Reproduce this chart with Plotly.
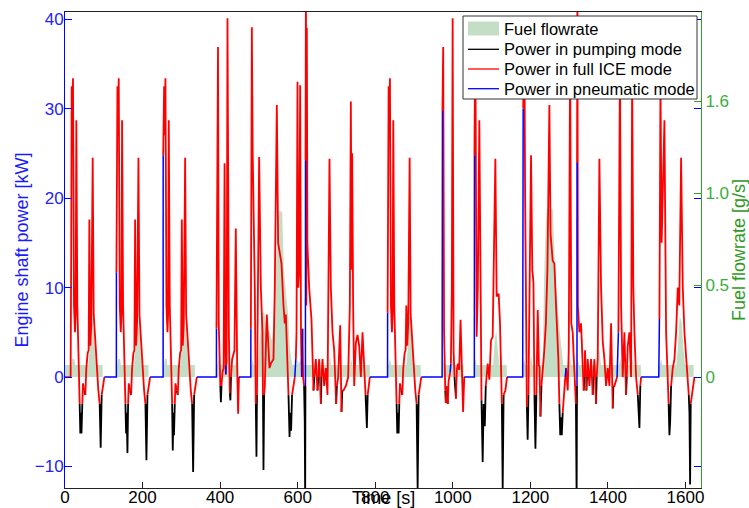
import plotly.graph_objects as go

# ---------------- data ----------------
# each entry: (time [s], engine shaft power [kW], mode of the segment that starts here)
# mode: 'I' = full ICE mode, 'P' = pumping mode, 'N' = pneumatic mode
power_c1 = [
    (0, 0, 'I'), (14.5, 0, 'I'), (16, 14, 'I'), (17.2, 32.5, 'I'), (18.9, 27, 'I'), (20.6, 33.4, 'I'),
    (23.2, 8, 'I'), (25.8, 5, 'I'), (27.5, 7, 'I'), (29.2, 28.7, 'I'), (31.8, 8, 'I'), (34.4, 3, 'I'),
    (37.8, -3, 'P'), (39.5, -6.3, 'P'), (41, -4, 'P'), (42.5, -6.3, 'P'), (44.7, -3, 'I'), (46.4, -0.7, 'I'),
    (49.9, -1.5, 'P'), (52.4, -2, 'I'), (55, 1, 'I'), (58.5, 2.7, 'I'), (61, 3, 'I'), (62.8, 17.6, 'I'),
    (65.3, 3.5, 'I'), (67.9, 6.1, 'I'), (71.4, 24.5, 'I'), (74, 7, 'I'), (76.5, 5, 'I'), (80, 2, 'I'),
    (83.4, 0, 'I'), (86, -1.5, 'I'), (89.4, -3, 'P'), (92, -7.9, 'P'), (94.6, -2, 'I'), (98, -1, 'I'),
    (101.5, 0, 'N'),
]
power_c2 = [
    (132.4, 0, 'N'), (132.6, 11.7, 'I'), (135.2, 32.5, 'I'), (136.9, 27, 'I'), (138.6, 33.4, 'I'),
    (141.2, 8, 'I'), (143.8, 5, 'I'), (145.5, 7, 'I'), (147.2, 28.7, 'I'), (149.8, 8, 'I'), (152.4, 3, 'I'),
    (155.8, -3, 'P'), (157.5, -6.3, 'P'), (159, -4, 'P'), (161, -8.5, 'P'), (162.7, -3, 'I'), (164.4, -0.7, 'I'),
    (167.9, -1.5, 'P'), (170.4, -2, 'I'), (173, 1, 'I'), (176.5, 2.7, 'I'), (179, 3, 'I'), (180.8, 17.6, 'I'),
    (183.3, 3.5, 'I'), (185.9, 6.1, 'I'), (189.4, 24.5, 'I'), (192, 7, 'I'), (194.5, 5, 'I'), (198, 2, 'I'),
    (201.4, 0, 'I'), (204, -1.5, 'I'), (207.4, -3, 'P'), (210, -9.3, 'P'), (212.6, -2, 'I'), (216, -1, 'I'),
    (219.5, 0, 'N'),
]
power_c3 = [
    (253, 0, 'N'), (253.2, 24.8, 'I'), (255.6, 32.5, 'I'), (257.3, 27, 'I'), (259, 33.4, 'I'),
    (261.6, 8, 'I'), (264.2, 5, 'I'), (265.9, 7, 'I'), (267.6, 28.7, 'I'), (270.2, 8, 'I'), (272.8, 3, 'I'),
    (276.2, -3, 'P'), (277.9, -8.2, 'P'), (279.5, -4, 'P'), (281, -6.5, 'P'), (283.1, -3, 'I'), (284.8, -0.7, 'I'),
    (288.3, -1.5, 'P'), (290.8, -2, 'I'), (293.4, 1, 'I'), (296.9, 2.7, 'I'), (299.4, 3, 'I'), (301.2, 17.6, 'I'),
    (303.7, 3.5, 'I'), (306.3, 6.1, 'I'), (309.8, 24.5, 'I'), (312.4, 7, 'I'), (314.9, 5, 'I'), (318.4, 2, 'I'),
    (321.8, 0, 'I'), (324.4, -1.5, 'I'), (327.8, -3, 'P'), (330.4, -10.6, 'P'), (333, -2, 'I'), (336.4, -1, 'I'),
    (339.9, 0, 'N'),
]
power_c4 = [
    (390.4, 0, 'N'), (390.6, 5.4, 'I'), (394.5, 36.9, 'I'), (396.5, 6, 'I'), (398.5, 3, 'I'), (400.5, -1, 'P'),
    (402, -2.8, 'P'), (403.5, -1, 'I'), (406, 0.5, 'I'), (409, 1, 'I'), (411.5, 23.9, 'I'), (413.5, 4, 'I'),
    (414.5, 0.3, 'N'), (415.5, 1.3, 'I'), (416.8, 2, 'I'), (419, 40.1, 'I'), (420.5, 8, 'I'), (422.5, 5, 'I'),
    (425, -1.8, 'P'), (426.5, -2.6, 'P'), (428, 0, 'I'), (431, 2, 'I'), (434, 2.5, 'I'), (437, 3, 'I'),
    (440.4, 16.6, 'I'), (442, 3, 'I'), (444, 1, 'I'), (446.4, -4.1, 'I'), (448.5, 0, 'N'),
]
power_c5 = [
    (479.1, 0, 'N'), (479.3, 5.4, 'I'), (481.8, 39.1, 'I'), (484, 25, 'I'), (486, 20.1, 'I'), (489.4, 10, 'I'),
    (492, -3, 'P'), (493.7, -8.9, 'P'), (495, -2, 'I'), (496.3, 6, 'I'), (500.6, 24.6, 'I'), (505, 10, 'I'),
    (509.2, 5, 'I'), (510.5, -2, 'P'), (511.8, -10.4, 'P'), (513.5, -2, 'I'), (515.2, -1, 'I'), (520.4, 7, 'I'),
    (523.8, 3, 'I'), (527.3, 1, 'I'), (530.7, 1.5, 'I'), (537.6, 2, 'I'), (541, 10, 'I'), (546.2, 30.4, 'I'),
    (549.6, 15, 'I'), (554.8, 13.5, 'I'), (558.2, 12.7, 'I'), (563.4, 8, 'I'), (566.8, 6, 'I'), (569.4, 7, 'I'),
    (573.7, 1, 'I'), (576.3, -2, 'P'), (579, -6.7, 'P'), (581, -4, 'P'), (583, -6, 'P'), (585.5, -2, 'I'),
    (589.2, -1, 'I'), (592.6, 0, 'N'), (595.2, 2, 'I'), (597, 5, 'I'), (599.5, 33, 'I'), (601.5, 10, 'I'),
    (604, 12, 'I'), (606.4, 32.6, 'I'), (608.5, 5, 'I'), (610.5, 0, 'N'), (612.4, 5.4, 'I'), (614, 0, 'I'),
    (616.5, -1, 'P'), (618.2, -5, 'P'), (619.3, -14, 'P'), (620, -1, 'N'), (620.2, 24.2, 'I'), (621.3, 45, 'I'),
    (622.3, 8, 'I'), (623.6, 39, 'I'), (625, 15, 'I'), (629.6, 10, 'I'), (635.6, 6.4, 'I'), (638.2, 3, 'I'),
    (640.8, -1.5, 'P'), (643, 0, 'I'), (646.8, 2, 'I'), (651.1, -1.5, 'P'), (653, 0, 'I'), (655.4, 2, 'I'),
    (659.7, -3, 'P'), (661.5, 0, 'I'), (664, 2, 'I'), (668.3, -1, 'I'), (672.6, 1, 'I'), (676.9, -2, 'I'),
    (682, 24.4, 'I'), (685.5, 10, 'I'), (689.8, 5, 'I'), (694.1, 3, 'I'), (699.3, -3, 'P'), (701, -1, 'I'),
    (704.4, 0, 'I'), (709.6, 5.8, 'I'), (713, -3.9, 'P'), (715, -1.5, 'I'), (718.2, -1.5, 'I'), (724.2, -1, 'I'),
    (730.2, 0, 'I'), (734.5, 8, 'I'), (737.1, 30.8, 'I'), (739, 12, 'I'), (740.5, 25, 'I'), (743, 8, 'I'),
    (745.7, -1, 'I'), (750, 3.8, 'I'), (754.3, 4.7, 'I'), (758.6, 3.5, 'I'), (762.9, 0, 'I'), (767.2, 5, 'I'),
    (771.5, 0, 'I'), (775, -2, 'P'), (778.4, -5.7, 'P'), (780.5, -2, 'I'), (782.7, -1, 'I'), (786.1, 0, 'N'),
]
power_c6 = [
    (831.7, 0, 'N'), (831.9, 7.2, 'I'), (834.5, 32.5, 'I'), (836.2, 27, 'I'), (837.9, 33.4, 'I'), (840.5, 8, 'I'),
    (843.1, 5, 'I'), (844.8, 7, 'I'), (846.5, 28.7, 'I'), (849.1, 8, 'I'), (851.7, 3, 'I'), (855.1, -3, 'P'),
    (856.8, -6.3, 'P'), (858.5, -4, 'P'), (860.3, -6.3, 'P'), (862, -3, 'I'), (863.7, -0.7, 'I'),
    (867.2, -1.5, 'P'), (869.7, -2, 'I'), (872.3, 1, 'I'), (875.8, 2.7, 'I'), (878.3, 3, 'I'), (880.1, 8, 'I'),
    (882.6, 3.5, 'I'), (885.2, 6.1, 'I'), (888.7, 24.5, 'I'), (891.3, 7, 'I'), (893.8, 5, 'I'), (897.3, 2, 'I'),
    (900.7, 0, 'I'), (903.3, -1.5, 'I'), (906.7, -3, 'P'), (909.3, -12.5, 'P'), (911.9, -2, 'I'),
    (915.3, -1, 'I'), (918.8, 0, 'N'),
]
power_c7 = [
    (972.5, 0, 'N'), (973.3, 29.8, 'I'), (975.2, 36.9, 'I'), (977.5, 5, 'I'), (980.6, -1.5, 'P'),
    (982, -2.9, 'I'), (984, -1, 'P'), (987, -3, 'I'), (989, -0.5, 'I'), (993, 0.5, 'N'), (995, 1.5, 'I'),
    (997.5, 10, 'I'), (999.6, 40.1, 'I'), (1002, 3, 'I'), (1004.5, 0, 'P'), (1006.5, -1.5, 'P'),
    (1008, -2.4, 'I'), (1010.5, 0.8, 'I'), (1013, 1.5, 'I'), (1016.5, 0.8, 'I'), (1020, 6.4, 'I'),
    (1023.6, -1, 'I'), (1026.5, -3.9, 'I'), (1029.5, 0, 'N'),
]
power_c8 = [
    (1055.5, 0, 'N'), (1055.8, 24.8, 'I'), (1058, 39, 'I'), (1061.5, 4.5, 'I'), (1064.5, 10, 'I'),
    (1068.4, 28.7, 'I'), (1071.7, 6.7, 'I'), (1074, -2.6, 'P'), (1077, -9.5, 'P'), (1079.5, -3, 'P'),
    (1082.5, -5.5, 'P'), (1085, -1, 'I'), (1090, 1.5, 'I'), (1094.2, -0.3, 'I'), (1098.5, 4.1, 'I'),
    (1102.8, 4.5, 'I'), (1109.7, 24.4, 'I'), (1113.1, 9, 'I'), (1118.3, 9.3, 'I'), (1121.7, 6, 'I'),
    (1124.3, -0.3, 'I'), (1126.5, -3, 'P'), (1128.6, -12.5, 'P'), (1131, -2, 'I'), (1135.5, -1.5, 'I'),
    (1139.8, 0, 'N'),
]
power_c9 = [
    (1180.2, 0, 'N'), (1181.5, 30, 'I'), (1184.5, 39, 'I'), (1186.5, 20.1, 'I'), (1189, 8, 'I'),
    (1191, -3.3, 'P'), (1193, -7, 'P'), (1195, -2, 'I'), (1197.5, 8, 'I'), (1201.7, 24.8, 'I'), (1205, 12, 'I'),
    (1208, 10.5, 'I'), (1210.5, -2, 'P'), (1213, -8, 'P'), (1215.5, -2, 'I'), (1219, 7.5, 'I'),
    (1222, 1.2, 'N'), (1223.5, 1.2, 'I'), (1226, -4.4, 'P'), (1228.5, -1, 'I'), (1232, 0.8, 'I'),
    (1236, 3, 'I'), (1240, 6, 'I'), (1244, 12, 'I'), (1249, 30.4, 'I'), (1252, 16, 'I'), (1257.6, 13, 'I'),
    (1261.9, 12.7, 'I'), (1266.2, 8, 'I'), (1272.2, 2, 'I'), (1274.8, -3, 'P'), (1277, -6.5, 'P'),
    (1279.1, -4.5, 'P'), (1281, -6.5, 'P'), (1283.4, -4, 'I'), (1287.7, -1, 'I'), (1290, 0, 'N'),
    (1292, 1, 'I'), (1296.3, -1.5, 'I'), (1299, 3, 'I'), (1302.5, 36, 'I'), (1305.5, 6, 'I'), (1309.2, 5, 'I'),
    (1312, 2, 'I'), (1315, -1, 'I'), (1317.5, -3, 'P'), (1319.3, -14, 'P'), (1320.2, -1, 'N'),
    (1320.4, 24, 'I'), (1321.3, 45, 'I'), (1322.5, 8, 'I'), (1326.4, 5, 'I'), (1330.7, 6, 'I'), (1335, 2, 'I'),
    (1337.6, -1.5, 'P'), (1339.5, 0, 'I'), (1341, 3, 'I'), (1344.5, -1.5, 'P'), (1346, 0, 'I'), (1347.9, 2, 'I'),
    (1352.2, -1, 'I'), (1356.5, 2, 'I'), (1360.8, -2, 'P'), (1362.5, 0, 'I'), (1365.1, 2, 'I'),
    (1369.4, -3, 'P'), (1371, 0, 'I'), (1373.7, 2, 'I'), (1378, 24.4, 'I'), (1382.3, 10, 'I'),
    (1386.6, 4, 'I'), (1390.9, 2, 'I'), (1395.2, -1, 'I'), (1399.5, 1, 'I'), (1403.8, -1, 'I'),
    (1408.1, 6, 'I'), (1412.4, -3.5, 'P'), (1414, -1, 'I'), (1416.7, -1, 'I'), (1423.6, 0, 'N'),
    (1427, 5, 'I'), (1431, 35, 'I'), (1434, 8, 'I'), (1438.2, 0, 'I'), (1442.5, 5, 'I'), (1446.8, -2, 'P'),
    (1448.5, 0, 'I'), (1451.1, 3.5, 'I'), (1455.4, 5, 'I'), (1459.7, 0, 'I'), (1462.5, 34, 'I'),
    (1465.5, 10, 'I'), (1468.3, 5, 'I'), (1472.6, 0, 'I'), (1477, -2, 'P'), (1481.2, -5.7, 'P'),
    (1483.5, -1, 'I'), (1485.5, 0, 'N'),
]
power_c10 = [
    (1531.1, 0, 'N'), (1532.8, 6.5, 'I'), (1535.5, 33, 'I'), (1538.5, 15, 'I'), (1541.4, 20, 'I'),
    (1545.7, 28.7, 'I'), (1550, 5, 'I'), (1554.3, 0, 'I'), (1556.5, -3, 'P'), (1558.6, -6.5, 'P'),
    (1560.5, -5, 'P'), (1562.9, -1, 'I'), (1567.2, 1, 'I'), (1571.5, 2, 'I'), (1575.8, 5, 'I'),
    (1580.1, 10, 'I'), (1584, 8, 'I'), (1588.7, 24.5, 'I'), (1593, 10, 'I'), (1597.3, 5, 'I'),
    (1601.6, 2, 'I'), (1605.9, 0, 'I'), (1608.5, -2, 'P'), (1610.2, -4, 'P'), (1611.9, -12, 'P'),
    (1613.5, -3, 'I'), (1618.8, -1, 'I'), (1621.4, 0, 'I'), (1623, 0, 'I'),
]

# fuel flowrate [g/s]
fuel_time_s = [
    0, 17, 19, 24, 26, 60, 63, 66, 70, 74, 77, 80, 97, 97.2,
    132.5, 132.7, 135, 137, 142, 144, 178, 181, 184, 188, 192, 195, 198, 215, 215.2,
    253.1, 253.3, 255.5, 257.5, 262, 264, 298, 301, 304, 308, 312, 315, 318, 335, 335.2,
    390.5, 390.7, 393, 396, 398, 417, 420, 422, 438, 441, 443, 447, 447.2,
    479.2, 479.4, 481, 484, 487, 497, 502, 508, 514, 520, 527, 533, 536, 541, 547, 551, 560, 564, 570,
    575, 580, 586, 598, 600, 603, 607, 610, 680, 683, 686, 735, 738, 741, 786, 786.2,
    831.8, 832, 834, 838, 841, 880, 884, 888, 893, 897, 901, 917, 917.2,
    972.6, 972.8, 975, 978, 997, 1000, 1003, 1028, 1028.2,
    1055.6, 1055.8, 1058, 1061, 1104, 1108, 1112, 1116, 1120, 1139, 1139.2,
    1180.3, 1180.5, 1184, 1187, 1199, 1202, 1205, 1232, 1235, 1240, 1243, 1258, 1263, 1270, 1278, 1285,
    1300, 1303, 1306, 1319, 1322, 1325, 1375, 1378, 1382, 1429, 1432, 1435, 1460, 1463, 1466, 1485, 1485.2,
    1531.2, 1531.4, 1534, 1537, 1540, 1576, 1580, 1585, 1590, 1595, 1599, 1621, 1621.2,
]
fuel_gs = [
    0.065, 0.065, 0.1, 0.1, 0.065, 0.065, 0.14, 0.2, 0.31, 0.25, 0.12, 0.065, 0.065, 0,
    0, 0.065, 0.065, 0.1, 0.1, 0.065, 0.065, 0.14, 0.2, 0.29, 0.25, 0.12, 0.065, 0.065, 0,
    0, 0.065, 0.065, 0.1, 0.1, 0.065, 0.065, 0.14, 0.2, 0.31, 0.25, 0.12, 0.065, 0.065, 0,
    0, 0.065, 0.065, 0.1, 0.065, 0.065, 0.1, 0.065, 0.065, 0.09, 0.065, 0.065, 0,
    0, 0.065, 0.065, 0.1, 0.065, 0.065, 0.2, 0.35, 0.35, 0.25, 0.25, 0.2, 0.25, 0.45, 0.7, 0.9, 0.9, 0.6, 0.45,
    0.35, 0.15, 0.065, 0.065, 0.1, 0.07, 0.1, 0.065, 0.065, 0.12, 0.065, 0.065, 0.1, 0.065, 0.065, 0,
    0, 0.065, 0.065, 0.1, 0.065, 0.065, 0.15, 0.33, 0.3, 0.15, 0.065, 0.065, 0,
    0, 0.065, 0.1, 0.065, 0.065, 0.1, 0.065, 0.065, 0,
    0, 0.065, 0.1, 0.065, 0.065, 0.2, 0.25, 0.15, 0.065, 0.065, 0,
    0, 0.065, 0.1, 0.065, 0.065, 0.12, 0.065, 0.065, 0.5, 0.85, 0.91, 0.91, 0.6, 0.38, 0.2, 0.065,
    0.065, 0.1, 0.065, 0.065, 0.1, 0.065, 0.065, 0.15, 0.065, 0.065, 0.1, 0.065, 0.065, 0.1, 0.065, 0.065, 0,
    0, 0.065, 0.065, 0.1, 0.065, 0.065, 0.15, 0.33, 0.3, 0.15, 0.065, 0.065, 0,
]

power_ticks = [-10, 0, 10, 20, 30, 40]
fuel_tick_vals = [0, 0.5, 1.0, 1.5]
fuel_tick_text = ["0", "0.5", "1.0", "1.6"]
time_ticks = [0, 200, 400, 600, 800, 1000, 1200, 1400, 1600]
legend_names = ["Fuel flowrate", "Power in pumping mode", "Power in full ICE mode", "Power in pneumatic mode"]

# ---------------- build traces ----------------
points = (power_c1 + power_c2 + power_c3 + power_c4 + power_c5 + power_c6 + power_c7
          + power_c8 + power_c9 + power_c10)
time_s = [p[0] for p in points]
power_kw = [p[1] for p in points]
mode = [p[2] for p in points]


def segments(code):
    xs, ys = [], []
    n = len(points)
    i = 0
    while i < n - 1:
        if mode[i] == code:
            j = i
            while j < n - 1 and mode[j] == code:
                j += 1
            xs += time_s[i:j + 1]
            ys += power_kw[i:j + 1]
            xs.append(None)
            ys.append(None)
            i = j
        else:
            i += 1
    return xs, ys


FONT = "Liberation Sans, Arial, sans-serif"
BLUE = "#0000ff"
GREEN = "#33a033"
FILL = "rgb(196,222,197)"
W, H = 749, 508
ML, MR, MT, MB = 65, 48, 12, 20
PW, PH = W - ML - MR, H - MT - MB


def px(xp):
    return (xp - ML) / PW


def py(yp):
    return (H - MB - yp) / PH


fig = go.Figure()
fig.add_trace(go.Scatter(
    x=fuel_time_s, y=fuel_gs, yaxis="y", mode="lines", fill="tozeroy",
    fillcolor=FILL, line=dict(width=0, color=FILL), name=legend_names[0], showlegend=False))
line_styles = [("P", "#000000", 1.8), ("I", "#ff0000", 1.8), ("N", BLUE, 1.5)]
for (code, color, w), name in zip(line_styles, legend_names[1:]):
    xs, ys = segments(code)
    fig.add_trace(go.Scatter(x=xs, y=ys, yaxis="y2", mode="lines", name=name, showlegend=False,
                             line=dict(color=color, width=w), connectgaps=False))
# helper axis carrying the mirrored blue ticks on the right side
fig.add_trace(go.Scatter(x=[None], y=[None], yaxis="y3", showlegend=False, hoverinfo="skip"))

# legend box drawn with shapes + text (compact MATLAB-like spacing)
shapes = [
    dict(type="rect", xref="paper", yref="paper", x0=px(463), x1=px(697), y0=py(99), y1=py(16),
         fillcolor="white", line=dict(color="#333333", width=1), layer="above"),
    dict(type="rect", xref="paper", yref="paper", x0=px(468), x1=px(499), y0=py(35.5), y1=py(21.5),
         fillcolor=FILL, line=dict(width=0), layer="above"),
]
row_y = [29.3, 49.3, 69.0, 88.7]
for (code, color, w), yy in zip(line_styles, row_y[1:]):
    shapes.append(dict(type="line", xref="paper", yref="paper", x0=px(468), x1=px(499),
                       y0=py(yy), y1=py(yy), line=dict(color=color, width=1.3), layer="above"))
annotations = [dict(text="Time [s]", x=0.5, y=0, xref="paper", yref="paper", xanchor="center",
                    yanchor="top", yshift=2, showarrow=False, font=dict(size=18, color="black"))]
for name, yy in zip(legend_names, row_y):
    annotations.append(dict(text=name, x=px(502), y=py(yy), xref="paper", yref="paper",
                            xanchor="left", yanchor="middle", showarrow=False,
                            font=dict(size=16.5, color="black")))

fig.update_layout(
    width=W, height=H,
    margin=dict(l=ML, r=MR, t=MT, b=MB),
    paper_bgcolor="white", plot_bgcolor="white",
    font=dict(family=FONT, size=17, color="black"),
    showlegend=False,
    xaxis=dict(range=[0, 1640], tickvals=time_ticks, ticks="inside", ticklen=6, tickcolor="#222",
               showline=True, linecolor="#222", linewidth=1, mirror=True, showgrid=False,
               zeroline=False, automargin=False, ticklabelstandoff=-6,
               tickfont=dict(size=17, color="black")),
    yaxis=dict(range=[-0.603, 1.984], side="right", tickvals=fuel_tick_vals, ticktext=fuel_tick_text,
               ticks="inside", ticklen=7, tickcolor=GREEN, showline=True, linecolor=GREEN, linewidth=1,
               showgrid=False, zeroline=False, automargin=False,
               tickfont=dict(size=17, color="#3cae3c"),
               title=dict(text="Fuel flowrate [g/s]", font=dict(size=18, color="#2f9a1f"), standoff=4)),
    yaxis2=dict(range=[-12.4, 40.8], overlaying="y", side="left", tickvals=power_ticks,
                ticks="inside", ticklen=7, tickcolor=BLUE, showline=True, linecolor=BLUE, linewidth=1,
                showgrid=False, zeroline=False, automargin=False, ticklabelstandoff=-3,
                tickfont=dict(size=17, color="#2222ff"),
                title=dict(text="Engine shaft power [kW]", font=dict(size=18, color="#1a1aff"), standoff=1)),
    yaxis3=dict(range=[-12.4, 40.8], overlaying="y", side="right", tickvals=power_ticks,
                ticks="inside", ticklen=7, tickcolor=BLUE, showticklabels=False, showline=False,
                showgrid=False, zeroline=False, automargin=False),
    shapes=shapes,
    annotations=annotations,
)

fig.write_html("out.html")
